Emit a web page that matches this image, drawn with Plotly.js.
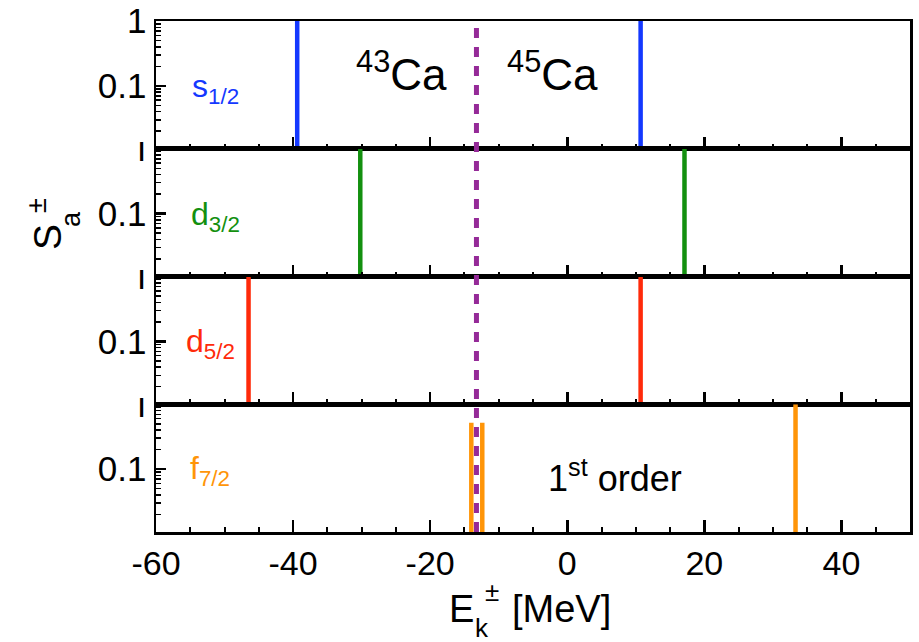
<!DOCTYPE html>
<html><head><meta charset="utf-8">
<script src="https://cdn.plot.ly/plotly-3.0.1.min.js"></script>
<style>html,body{margin:0;padding:0;background:#fff}</style>
</head><body><div id="chart" style="width:919px;height:642px"></div>
<script>
// ---- data ----
const energyS12 = [-39.4, -37.3, 10.7, 12.75];
const strengthS12 = [1.0, 0.0115, 1.0, 0.0115];
const energyD32 = [-30.2, 17.1];
const strengthD32 = [1.0, 1.0];
const energyD52 = [-46.5, 10.7];
const strengthD52 = [1.0, 1.0];
const energyF72 = [-14.0, -12.4, 33.3];
const strengthF72 = [0.52, 0.52, 1.0];
const fermiEnergy = -13.25;
const panelLabels = ['s<sub>1/2</sub>', 'd<sub>3/2</sub>', 'd<sub>5/2</sub>', 'f<sub>7/2</sub>'];
const xTickVals = [-60, -40, -20, 0, 20, 40];
const xTickText = ['-60', '-40', '-20', '0', '20', '40'];
const yTickVals = [0.1, 1];
const yTickTextTop = ['0.1', '1'];
const yTickTextLow = ['0.1', 'ı'];
const minorLogTicks = [0.02,0.03,0.04,0.05,0.06,0.07,0.08,0.09,0.2,0.3,0.4,0.5,0.6,0.7,0.8,0.9];

const colors = ['#1438ff', '#13900f', '#ff2a0a', '#ff9508'];
const FONT = 'Liberation Sans, Arial, Helvetica, sans-serif';
const BASE = 1e-4; // stems start below the visible range

function stems(es, ss) {
  const x = [], y = [];
  es.forEach((e, i) => { x.push(e, e, null); y.push(BASE, ss[i], null); });
  return {x, y};
}
const series = [[energyS12, strengthS12], [energyD32, strengthD32], [energyD52, strengthD52], [energyF72, strengthF72]];
const traces = series.map((s, i) => {
  const d = stems(s[0], s[1]);
  return {x: d.x, y: d.y, type: 'scatter', mode: 'lines', line: {color: colors[i], width: 4.5},
    xaxis: i === 0 ? 'x' : 'x' + (i + 1), yaxis: i === 0 ? 'y' : 'y' + (i + 1),
    showlegend: false, hoverinfo: 'skip'};
});

const L = 156, R = 9, T = 21, B = 110, W = 919, H = 642;
const pw = W - L - R, ph = H - T - B;
const px = p => (p - L) / pw;
const py = p => (H - B - p) / ph;

const layout = {
  width: W, height: H, margin: {l: L, r: R, t: T, b: B},
  paper_bgcolor: '#fff', plot_bgcolor: '#fff', showlegend: false,
  font: {family: FONT, color: '#000'},
  shapes: [{type: 'line', xref: 'x4', yref: 'paper', x0: fermiEnergy, x1: fermiEnergy, y0: 0, y1: 1,
    line: {color: '#952a98', width: 5, dash: '10px,9px'}, layer: 'above'}],
  annotations: []
};

for (let i = 0; i < 4; i++) {
  const xk = i === 0 ? 'xaxis' : 'xaxis' + (i + 1);
  const yk = i === 0 ? 'yaxis' : 'yaxis' + (i + 1);
  const top = 1 - i * 0.25, bot = 1 - (i + 1) * 0.25;
  layout[xk] = {
    anchor: i === 0 ? 'y' : 'y' + (i + 1), domain: [0, 1], range: [-60, 50],
    tickmode: 'array', tickvals: xTickVals, ticktext: xTickText,
    ticks: 'inside', ticklen: 12, tickwidth: 2.5, tickcolor: '#000',
    showticklabels: i === 3, tickfont: {family: FONT, size: 34, color: '#000'},
    showline: true, linewidth: 2.5, linecolor: '#000', mirror: true,
    showgrid: false, zeroline: false,
    minor: {ticks: 'inside', ticklen: 5, tickwidth: 2, tickcolor: '#000', dtick: 5, tick0: 0, showgrid: false}
  };
  layout[yk] = {
    anchor: i === 0 ? 'x' : 'x' + (i + 1), domain: [bot, top], type: 'log', range: [-1.97, 0],
    tickmode: 'array', tickvals: yTickVals, ticktext: i === 0 ? yTickTextTop : yTickTextLow,
    ticks: 'inside', ticklen: 10, tickwidth: 2.5, tickcolor: '#000',
    tickfont: {family: FONT, size: 35, color: '#000'},
    showline: true, linewidth: 2.5, linecolor: '#000', mirror: true,
    showgrid: false, zeroline: false,
    minor: {tickmode: 'array', tickvals: minorLogTicks, ticks: 'inside', ticklen: 5, tickwidth: 1.5, tickcolor: '#000', showgrid: false}
  };
}

function ann(text, xp, yp, size, color, opts) {
  layout.annotations.push(Object.assign({text, x: px(xp), y: py(yp), xref: 'paper', yref: 'paper',
    xanchor: 'left', yanchor: 'middle', showarrow: false,
    font: {family: FONT, size, color}}, opts || {}));
}
// panel labels
ann(panelLabels[0], 190, 88, 32, colors[0]);
ann(panelLabels[1], 189, 216, 32, colors[1]);
ann(panelLabels[2], 184, 343, 32, colors[2]);
ann(panelLabels[3], 188, 470, 32, colors[3]);
// isotopes
ann('<sup>43</sup>Ca', 354, 71, 44, '#000');
ann('<sup>45</sup>Ca', 505, 71, 44, '#000');
ann('1<sup>st</sup> order', 546, 476, 36, '#000');
// x title pieces
ann('E', 447, 609, 38, '#000');
ann('k', 473, 628, 26, '#000');
ann('±', 483, 592, 26, '#000');
ann('[MeV]', 510, 609, 38, '#000');
// y title pieces (rotated)
ann('S', 47, 237, 39, '#000', {xanchor: 'center', textangle: -90});
ann('a', 71, 219, 27, '#000', {xanchor: 'center', textangle: -90});
ann('±', 37, 206, 27, '#000', {xanchor: 'center', textangle: -90});

Plotly.newPlot('chart', traces, layout, {staticPlot: true, displayModeBar: false});
</script>
</body></html>
